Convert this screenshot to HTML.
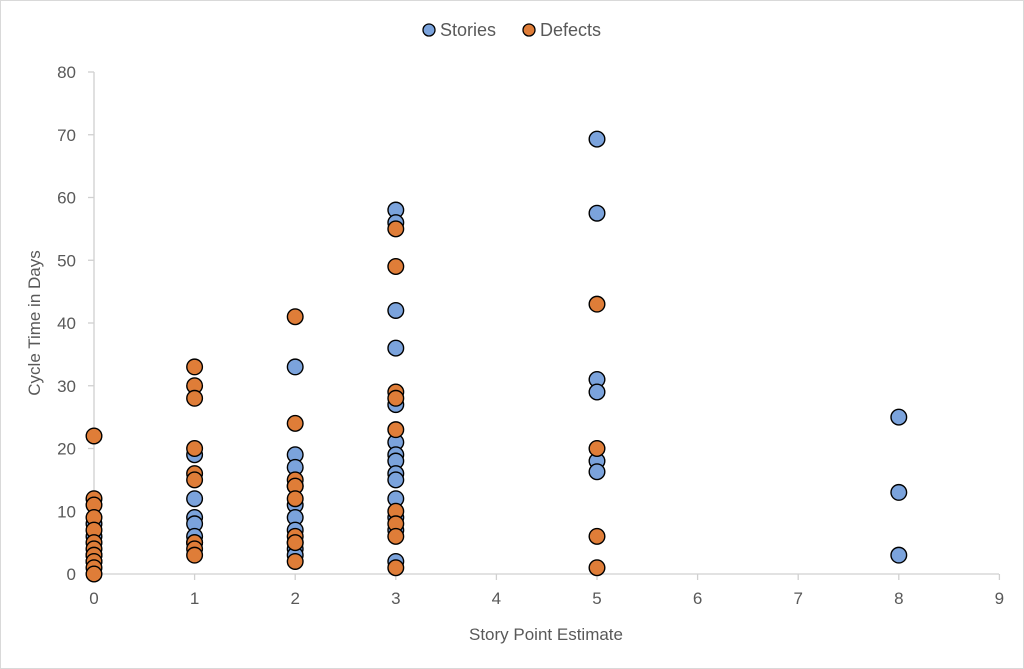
<!DOCTYPE html>
<html><head><meta charset="utf-8"><style>body{margin:0;background:#fff}svg{display:block}</style></head>
<body>
<svg width="1024" height="669" xmlns="http://www.w3.org/2000/svg" font-family="Liberation Sans, sans-serif">
<rect x="0.5" y="0.5" width="1023" height="668" fill="#fff" stroke="#d9d9d9"/>
<g stroke="#d0d0d0" stroke-width="1.3">
<line x1="94" y1="72" x2="94" y2="574"/>
<line x1="94" y1="574" x2="999" y2="574"/>
</g>
<g id="ticks" stroke="#d0d0d0" stroke-width="1.3"></g>
<g fill="#595959" font-size="17" id="lab"></g>
<text x="546" y="640" text-anchor="middle" font-size="17" fill="#595959">Story Point Estimate</text>
<text transform="translate(40,323) rotate(-90)" text-anchor="middle" font-size="17" fill="#595959">Cycle Time in Days</text>
<circle cx="429" cy="30" r="6" fill="#7ba3dc" stroke="#000" stroke-width="1.3"/>
<text x="440" y="36" font-size="18" fill="#595959">Stories</text>
<circle cx="529" cy="30" r="6" fill="#df7d38" stroke="#000" stroke-width="1.3"/>
<text x="540" y="36" font-size="18" fill="#595959">Defects</text>
<g id="pts" stroke="#000" stroke-width="1.4"></g>
<script>
var X=v=>94+v*100.6,Y=v=>574-v*6.275,ns="http://www.w3.org/2000/svg";
var t=document.getElementById('ticks'),l=document.getElementById('lab'),p=document.getElementById('pts');
function el(par,n,a,txt){var e=document.createElementNS(ns,n);for(var k in a)e.setAttribute(k,a[k]);if(txt!=null)e.textContent=txt;par.appendChild(e);}
for(var i=0;i<=9;i++){el(t,'line',{x1:X(i),y1:574,x2:X(i),y2:580});el(l,'text',{x:X(i),y:604,'text-anchor':'middle'},i);}
for(var j=0;j<=80;j+=10){el(t,'line',{x1:88,y1:Y(j),x2:94,y2:Y(j)});el(l,'text',{x:76,y:Y(j)+6,'text-anchor':'end'},j);}
var S={0:[8,6,3,2],1:[19,12,9,8,6,5],2:[33,19,17,14,11,9,7,5,4,3],3:[58,56,42,36,27,21,19,18,16,15,12,9,7,2],5:[69.3,57.5,31,29,18,16.3],8:[25,13,3]};
var D={0:[22,12,11,9,7,5,4,3,2,1,0],1:[33,30,28,20,16,15,5,4,3],2:[41,24,15,14,12,6,5,2],3:[55,49,29,28,23,10,8,6,1],5:[43,20,6,1]};
for(var k in S)S[k].forEach(v=>el(p,'circle',{cx:X(+k),cy:Y(v),r:7.8,fill:'#7ba3dc'}));
for(var k in D)D[k].forEach(v=>el(p,'circle',{cx:X(+k),cy:Y(v),r:7.8,fill:'#df7d38'}));
</script>
</svg>
</body></html>
